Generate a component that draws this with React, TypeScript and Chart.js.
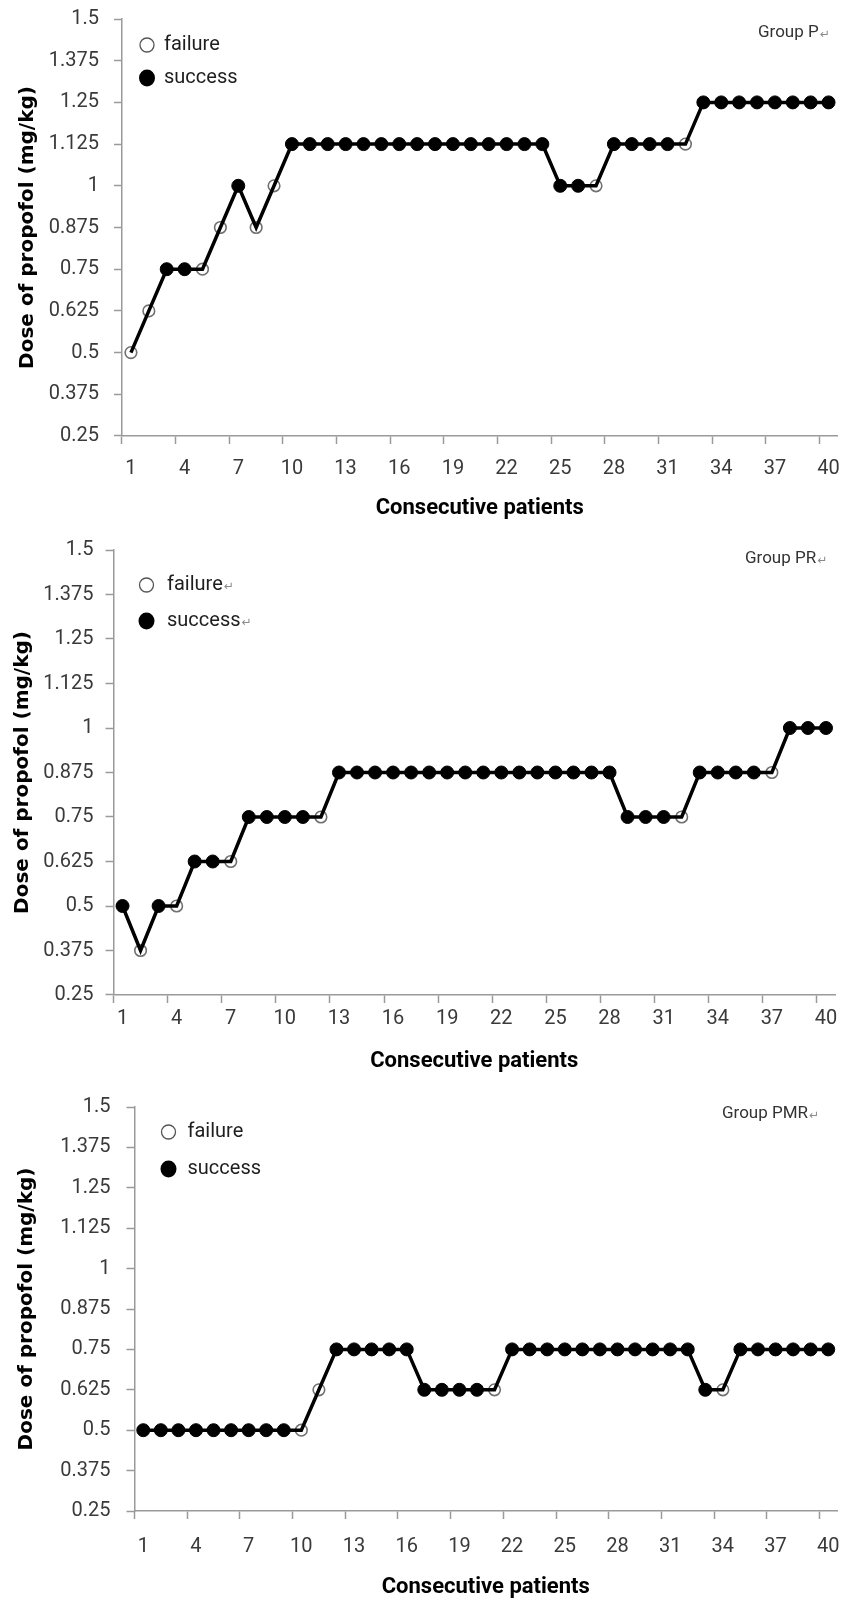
import React, { useEffect, useRef } from 'react';
import { Chart, registerables } from 'chart.js';

Chart.register(...registerables);

// ---------- data ----------
const patients = [
  '1', '2', '3', '4', '5', '6', '7', '8', '9', '10',
  '11', '12', '13', '14', '15', '16', '17', '18', '19', '20',
  '21', '22', '23', '24', '25', '26', '27', '28', '29', '30',
  '31', '32', '33', '34', '35', '36', '37', '38', '39', '40',
];

const yTickValues = [0.25, 0.375, 0.5, 0.625, 0.75, 0.875, 1, 1.125, 1.25, 1.375, 1.5];

// Group P
const doseP = [
  0.5, 0.625, 0.75, 0.75, 0.75, 0.875, 1, 0.875, 1, 1.125,
  1.125, 1.125, 1.125, 1.125, 1.125, 1.125, 1.125, 1.125, 1.125, 1.125,
  1.125, 1.125, 1.125, 1.125, 1, 1, 1, 1.125, 1.125, 1.125,
  1.125, 1.125, 1.25, 1.25, 1.25, 1.25, 1.25, 1.25, 1.25, 1.25,
];
const outcomeP = [
  'F', 'F', 'S', 'S', 'F', 'F', 'S', 'F', 'F', 'S',
  'S', 'S', 'S', 'S', 'S', 'S', 'S', 'S', 'S', 'S',
  'S', 'S', 'S', 'S', 'S', 'S', 'F', 'S', 'S', 'S',
  'S', 'F', 'S', 'S', 'S', 'S', 'S', 'S', 'S', 'S',
];

// Group PR
const dosePR = [
  0.5, 0.375, 0.5, 0.5, 0.625, 0.625, 0.625, 0.75, 0.75, 0.75,
  0.75, 0.75, 0.875, 0.875, 0.875, 0.875, 0.875, 0.875, 0.875, 0.875,
  0.875, 0.875, 0.875, 0.875, 0.875, 0.875, 0.875, 0.875, 0.75, 0.75,
  0.75, 0.75, 0.875, 0.875, 0.875, 0.875, 0.875, 1, 1, 1,
];
const outcomePR = [
  'S', 'F', 'S', 'F', 'S', 'S', 'F', 'S', 'S', 'S',
  'S', 'F', 'S', 'S', 'S', 'S', 'S', 'S', 'S', 'S',
  'S', 'S', 'S', 'S', 'S', 'S', 'S', 'S', 'S', 'S',
  'S', 'F', 'S', 'S', 'S', 'S', 'F', 'S', 'S', 'S',
];

// Group PMR
const dosePMR = [
  0.5, 0.5, 0.5, 0.5, 0.5, 0.5, 0.5, 0.5, 0.5, 0.5,
  0.625, 0.75, 0.75, 0.75, 0.75, 0.75, 0.625, 0.625, 0.625, 0.625,
  0.625, 0.75, 0.75, 0.75, 0.75, 0.75, 0.75, 0.75, 0.75, 0.75,
  0.75, 0.75, 0.625, 0.625, 0.75, 0.75, 0.75, 0.75, 0.75, 0.75,
];
const outcomePMR = [
  'S', 'S', 'S', 'S', 'S', 'S', 'S', 'S', 'S', 'F',
  'F', 'S', 'S', 'S', 'S', 'S', 'S', 'S', 'S', 'S',
  'F', 'S', 'S', 'S', 'S', 'S', 'S', 'S', 'S', 'S',
  'S', 'S', 'S', 'F', 'S', 'S', 'S', 'S', 'S', 'S',
];

const legendLabels = ['failure', 'success'];
const yTitle = 'Dose of propofol (mg/kg)';
const xTitle = 'Consecutive patients';

// ---------- styles ----------
const AXIS = '#9a9a9a';
const TICK_TEXT = '#3a3a3a';
const W = 845;

const panels = [
  {
    group: 'Group P', doses: doseP, outcomes: outcomeP, mark: false,
    y0: 0, H: 525, top: 19, bottom: 436, left: 122, right: 837.5,
    xGap: 13, xTitleY: 508, yTitlePad: 16.6, yTickPad: 15,
    markX: 147, failY: 45, succY: 78, textX: 164, groupX: 758, groupY: 33,
  },
  {
    group: 'Group PR', doses: dosePR, outcomes: outcomePR, mark: true,
    y0: 520, H: 560, top: 30, bottom: 475, left: 113.5, right: 835,
    xGap: 4, xTitleY: 541, yTitlePad: 11.6, yTickPad: 12,
    markX: 146.5, failY: 65, succY: 101, textX: 167, groupX: 745, groupY: 39,
  },
  {
    group: 'Group PMR', doses: dosePMR, outcomes: outcomePMR, mark: false,
    y0: 1075, H: 526, top: 32, bottom: 436, left: 134.5, right: 837,
    xGap: 16, xTitleY: 513, yTitlePad: 15.6, yTickPad: 16,
    markX: 168.5, failY: 57, succY: 94, textX: 187.5, groupX: 722, groupY: 39,
  },
];

const panelLegend = {
  id: 'panelLegend',
  afterDraw(chart: any, _args: any, o: any) {
    const ctx = chart.ctx;
    ctx.save();
    const drawMark = (x: number, y: number) => {
      ctx.save();
      ctx.font = '12px "DejaVu Sans"';
      ctx.fillStyle = '#8a8a8a';
      ctx.textBaseline = 'middle';
      ctx.textAlign = 'left';
      ctx.fillText('\u21B5', x + 1, y + 2);
      ctx.restore();
    };
    // failure marker
    ctx.beginPath();
    ctx.arc(o.markX, o.failY, 7, 0, Math.PI * 2);
    ctx.fillStyle = '#ffffff';
    ctx.fill();
    ctx.lineWidth = 1.3;
    ctx.strokeStyle = '#555555';
    ctx.stroke();
    // success marker
    ctx.beginPath();
    ctx.ellipse(o.markX, o.succY, 8, 8.5, 0, 0, Math.PI * 2);
    ctx.fillStyle = '#000000';
    ctx.fill();

    ctx.font = '20px Roboto';
    ctx.fillStyle = '#1e1e1e';
    ctx.textBaseline = 'middle';
    ctx.textAlign = 'left';
    ctx.fillText(legendLabels[0], o.textX, o.failY);
    if (o.mark) drawMark(o.textX + ctx.measureText(legendLabels[0]).width, o.failY);
    ctx.font = '20px Roboto';
    ctx.fillText(legendLabels[1], o.textX, o.succY);
    if (o.mark) drawMark(o.textX + ctx.measureText(legendLabels[1]).width, o.succY);

    ctx.font = '17px Roboto';
    ctx.fillStyle = '#333333';
    ctx.fillText(o.group, o.groupX, o.groupY);
    drawMark(o.groupX + ctx.measureText(o.group).width, o.groupY);
    ctx.restore();
  },
};

function Panel({ cfg }: { cfg: any }) {
  const ref = useRef<HTMLCanvasElement | null>(null);
  useEffect(() => {
    if (!ref.current) return;
    const padBottom = Math.max(cfg.H - cfg.xTitleY - 13.2, 0);
    const xHeight = cfg.H - padBottom - cfg.bottom;
    const chart = new Chart(ref.current, {
      type: 'line',
      data: {
        labels: patients,
        datasets: [
          {
            data: cfg.doses,
            borderColor: '#000000',
            borderWidth: 3.5,
            pointRadius: 0,
            tension: 0,
            fill: false,
            order: 0,
          },
          {
            data: cfg.doses,
            showLine: false,
            order: 1,
            pointStyle: 'circle',
            pointRadius: cfg.outcomes.map((o: string) => (o === 'S' ? 6.5 : 5.8)),
            pointBackgroundColor: cfg.outcomes.map((o: string) => (o === 'S' ? '#000000' : '#ffffff')),
            pointBorderColor: cfg.outcomes.map((o: string) => (o === 'S' ? '#000000' : '#707070')),
            pointBorderWidth: cfg.outcomes.map((o: string) => (o === 'S' ? 1 : 1.6)),
          },
        ],
      },
      options: {
        animation: false,
        responsive: false,
        devicePixelRatio: 1,
        events: [],
        layout: {
          padding: { top: cfg.top, right: W - cfg.right, bottom: padBottom, left: 0 },
        },
        plugins: {
          legend: { display: false },
          tooltip: { enabled: false },
          panelLegend: {
            markX: cfg.markX, failY: cfg.failY, succY: cfg.succY, textX: cfg.textX,
            group: cfg.group, groupX: cfg.groupX, groupY: cfg.groupY, mark: cfg.mark,
          },
        } as any,
        scales: {
          x: {
            type: 'category',
            offset: true,
            grid: {
              offset: true,
              drawOnChartArea: false,
              drawTicks: true,
              tickLength: 8,
              tickWidth: 1.5,
              tickColor: (c: any) => (typeof c.index === 'number' && c.index % 3 === 0 ? AXIS : 'rgba(0,0,0,0)'),
            },
            border: { display: true, color: AXIS, width: 1.5 },
            ticks: {
              autoSkip: false,
              maxRotation: 0,
              minRotation: 0,
              padding: cfg.xGap,
              color: TICK_TEXT,
              font: { family: 'Roboto', size: 20 },
              callback: (_v: any, i: number) => (i % 3 === 0 ? patients[i] : ''),
            },
            title: {
              display: true,
              text: xTitle,
              color: '#000000',
              font: { family: 'Roboto', size: 22, weight: 'bold', lineHeight: 1.2 },
              padding: { top: 0, bottom: 0 },
            },
            afterFit: (s: any) => {
              s.height = xHeight;
              s.paddingLeft = 0;
              s.paddingRight = 0;
            },
          },
          y: {
            type: 'linear',
            min: 0.25,
            max: 1.5,
            afterBuildTicks: (s: any) => {
              s.ticks = yTickValues.map((v) => ({ value: v }));
            },
            grid: {
              drawOnChartArea: false,
              drawTicks: true,
              tickLength: 8,
              tickWidth: 1.5,
              tickColor: AXIS,
            },
            border: { display: true, color: AXIS, width: 1.5 },
            ticks: {
              padding: cfg.yTickPad,
              color: TICK_TEXT,
              font: { family: 'Roboto', size: 20 },
              callback: (v: any) => String(v),
            },
            title: {
              display: true,
              text: yTitle,
              color: '#000000',
              font: { family: '"DejaVu Sans"', size: 20, weight: 'bold', lineHeight: 1.2 },
              padding: { top: cfg.yTitlePad - 0.6, bottom: 0 },
            },
            afterFit: (s: any) => {
              s.width = cfg.left;
              s.paddingTop = 0;
              s.paddingBottom = 0;
            },
          },
        },
      } as any,
      plugins: [panelLegend],
    });
    return () => chart.destroy();
  }, []);
  return (
    <canvas
      ref={ref}
      width={W}
      height={cfg.H}
      style={{ position: 'absolute', left: 0, top: cfg.y0, width: W, height: cfg.H, display: 'block' }}
    />
  );
}

export default function App() {
  return (
    <div
      style={{
        position: 'absolute',
        left: 0,
        top: 0,
        width: W,
        height: 1601,
        overflow: 'hidden',
        background: '#ffffff',
      }}
    >
      {panels.map((p) => (
        <Panel key={p.group} cfg={p} />
      ))}
    </div>
  );
}
